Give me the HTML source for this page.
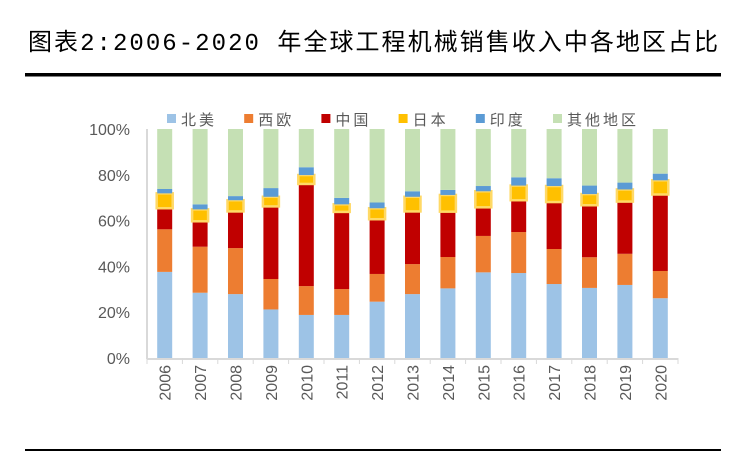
<!DOCTYPE html>
<html><head><meta charset="utf-8"><style>
body{margin:0;background:#fff;width:744px;height:453px;overflow:hidden;font-family:"Liberation Sans","Noto Sans CJK SC",sans-serif}
</style></head><body>
<svg width="744" height="453" xmlns="http://www.w3.org/2000/svg">
<text x="28" y="50" font-size="24" textLength="690" lengthAdjust="spacing" font-family="'Liberation Mono','Noto Sans CJK SC',monospace" fill="#000">图表2:2006-2020 年全球工程机械销售收入中各地区占比</text>
<rect x="25" y="73" width="696" height="3.5" fill="#000"/>
<rect x="25" y="449" width="696" height="2" fill="#000"/>
<g id="plot"></g>
</svg>
<script>
const years=["2006","2007","2008","2009","2010","2011","2012","2013","2014","2015","2016","2017","2018","2019","2020"];
const seriesNames=["北美","西欧","中国","日本","印度","其他地区"];
const northAmerica=[37.6,28.5,27.9,21.2,18.8,18.8,24.6,27.9,30.4,37.4,37.1,32.3,30.6,31.9,26.1];
const westEurope=[18.6,20.1,20.1,13.3,12.6,11.3,12.1,13.1,13.7,15.9,17.9,15.3,13.4,13.6,11.9];
const china=[9.2,11.1,16.0,31.7,44.6,33.7,23.9,23.0,19.8,12.5,13.9,20.5,22.7,22.8,33.4];
const japan=[6.5,5.2,4.9,4.2,3.9,3.3,4.8,6.4,7.3,7.0,6.4,7.0,4.9,5.3,6.2];
const india=[1.9,2.2,1.8,3.8,3.4,2.8,2.5,2.4,2.2,2.3,3.6,3.4,3.7,3.0,2.9];
const others=[26.2,32.9,29.3,25.8,16.7,30.1,32.1,27.2,26.6,24.9,21.1,21.5,24.7,23.4,19.5];
const yTicks=["0%","20%","40%","60%","80%","100%"];
const NS="http://www.w3.org/2000/svg";
const g=document.getElementById('plot');
const x0=147,x1=678,yb=358,yt=129;
const pitch=(x1-x0)/years.length;
const yScale=v=>yb-(v/100)*(yb-yt);
const xCenter=i=>x0+pitch*(i+0.5);
const colors=["#9dc3e6","#ed7d31","#c00000","#ffc000","#5b9bd5","#c5e0b4"];
const series=[northAmerica,westEurope,china,japan,india,others];
function mk(tag,attrs){const e=document.createElementNS(NS,tag);for(const k in attrs)e.setAttribute(k,attrs[k]);g.appendChild(e);return e;}
let ax=mk('line',{x1:x0,y1:yt,x2:x0,y2:yb+1,stroke:'#d9d9d9','stroke-width':2});


let xa=mk('line',{x1:x0,y1:yb+1,x2:x1,y2:yb+1,stroke:'#d9d9d9','stroke-width':2});


yTicks.forEach((t,i)=>{
 const v=i*20;
 const tx=mk('text',{x:130,y:yScale(v)+6,'text-anchor':'end','font-size':16,fill:'#595959'});
 tx.textContent=t;
 
 
});
for(let i=0;i<=years.length;i++){
 const tk=mk('line',{x1:x0+pitch*i,y1:yb,x2:x0+pitch*i,y2:yb+6,stroke:'#d9d9d9','stroke-width':1});
 
 
}
years.forEach((yr,i)=>{
 let cum=0;
 const cx=xCenter(i);
 series.forEach((s,k)=>{
  const y1=yScale(cum),y2=yScale(cum+s[i]);
  cum+=s[i];
  const r=mk('rect',{x:cx-7.5,y:y2,width:15,height:y1-y2,fill:colors[k]});
  if(k===3){r.setAttribute('stroke','#ffd966');r.setAttribute('stroke-width','2.5');r.setAttribute('x',cx-8);r.setAttribute('width',16);}
  
  
 });
 const lb=mk('text',{x:0,y:0,'font-size':16,fill:'#595959','text-anchor':'end',transform:`translate(${cx+6},365) rotate(-90)`});
 lb.textContent=yr;
 
 
});
seriesNames.forEach((n,k)=>{
 const lx=167+k*77.2;
 const m=mk('rect',{x:lx,y:114,width:9,height:9,fill:colors[k]});
 
 
 const t=mk('text',{x:lx+14,y:125,'font-size':15,fill:'#595959','letter-spacing':'3'});
 t.textContent=n;
 
 
});
</script>
</body></html>
